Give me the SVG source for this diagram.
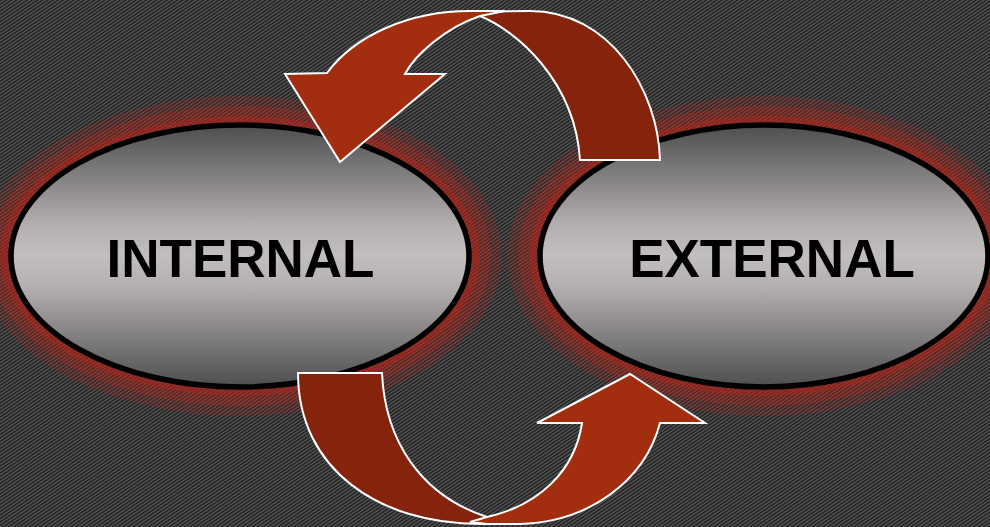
<svg xmlns="http://www.w3.org/2000/svg" width="990" height="527" viewBox="0 0 990 527">
<defs>
<pattern id="st" width="10" height="2.9" patternUnits="userSpaceOnUse" patternTransform="rotate(-34)">
<rect width="10" height="2.9" fill="#5a5a5a"/>
<rect width="10" height="1.45" fill="#1a1a1a"/>
</pattern>
<linearGradient id="g" x1="0" y1="0" x2="0" y2="1">
<stop offset="0" stop-color="#4e4e4e"/>
<stop offset="0.38" stop-color="#b4afaf"/>
<stop offset="0.5" stop-color="#c3bebe"/>
<stop offset="0.62" stop-color="#b4afaf"/>
<stop offset="1" stop-color="#4e4e4e"/>
</linearGradient>
<style>
.glow{fill:#b8241a}
.node{fill:url(#g);stroke:#000;stroke-width:5.5}
.lbl{font-family:"Liberation Sans",Arial,sans-serif;font-weight:bold;font-size:53px;fill:#000;text-anchor:middle}
.light{fill:#a32e0f;stroke:#fff;stroke-width:2;stroke-linejoin:miter}
.dark{fill:#85230c;stroke:#fff;stroke-width:2;stroke-linejoin:miter}
</style>
</defs>
<rect width="990" height="527" fill="url(#st)"/>
<g id="internal">
<ellipse class="glow" cx="240" cy="256" rx="262" ry="160" opacity="0.22"/>
<ellipse class="glow" cx="240" cy="256" rx="251" ry="150" opacity="0.28"/>
<ellipse class="glow" cx="240" cy="256" rx="240" ry="140" opacity="0.38"/>
<ellipse class="node" cx="240" cy="256" rx="229" ry="131"/>
<text class="lbl" x="240.5" y="277">INTERNAL</text>
</g>
<g id="external">
<ellipse class="glow" cx="764" cy="256" rx="257" ry="160" opacity="0.22"/>
<ellipse class="glow" cx="764" cy="256" rx="246" ry="150" opacity="0.28"/>
<ellipse class="glow" cx="764" cy="256" rx="235" ry="140" opacity="0.38"/>
<ellipse class="node" cx="764" cy="256" rx="224" ry="131"/>
<text class="lbl" x="772" y="277">EXTERNAL</text>
</g>
<g id="connectors">
<g id="top-arrow">
<path class="dark" d="M580,160 L660,160 C658,90 610,11 530,11 L470,12 L480,16 C515,30 575,80 580,160 Z"/>
<path class="light" d="M505,11 L470,11 C410,11 355,35 327,73 L285,74 L340,162 L445,74 L405,74 C415,55 445,28 480,16 Z"/>
</g>
<g id="bottom-arrow">
<path class="dark" d="M298,373 L382,373 C385,440 420,495 487,517 L505,524 L480,524 C380,524 298,470 298,373 Z"/>
<path class="light" d="M487,524 L520,524 C590,522 645,480 660,423 L705,423 L630,374 L537,423 L582,423 C575,470 540,505 487,517 L470,522 Z"/>
</g>
</g>
</svg>
